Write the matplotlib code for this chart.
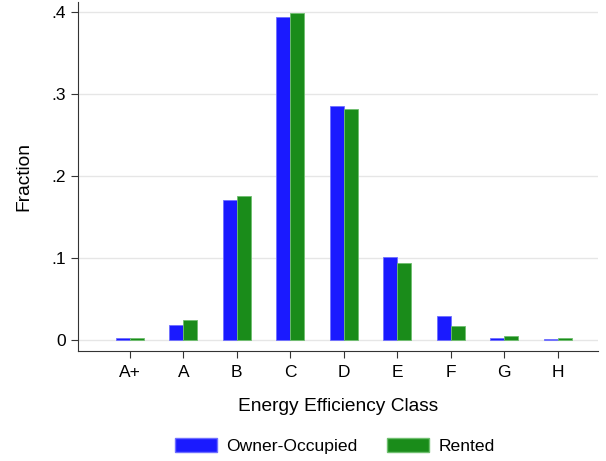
import numpy as np
import matplotlib.pyplot as plt
from matplotlib.patches import Patch

plt.rcParams['font.family'] = ['Liberation Sans', 'DejaVu Sans']

classes = ["A+", "A", "B", "C", "D", "E", "F", "G", "H"]
owner = [0.002, 0.018, 0.171, 0.394, 0.285, 0.101, 0.029, 0.002, 0.001]
rented = [0.003, 0.024, 0.176, 0.399, 0.282, 0.094, 0.017, 0.005, 0.003]

blue = "#1a1aff"
green = "#1a8c1a"

fig = plt.figure(figsize=(6.06, 4.61), dpi=100)
ax = fig.add_axes([0.1287, 0.2386, 0.858, 0.757])

x = np.arange(len(classes))
w = 0.26
ax.bar(x - w/2, owner, w, color=blue, edgecolor="#6f6fff", linewidth=0.6, zorder=3)
ax.bar(x + w/2, rented, w, color=green, edgecolor="#6fbf6f", linewidth=0.6, zorder=3)

ax.set_xlim(-0.97, 8.75)
ax.set_ylim(-0.0134, 0.412)
ax.set_yticks([0, 0.1, 0.2, 0.3, 0.4])
ax.set_yticklabels(["0", ".1", ".2", ".3", ".4"])
ax.set_xticks(x)
ax.set_xticklabels(classes)
ax.tick_params(labelsize=12.5, length=5, width=0.8, color="#333333")
ax.tick_params(axis="x", pad=5)
ax.grid(axis="y", color="#e6e6e6", linewidth=1, zorder=0)

for s in ["top", "right"]:
    ax.spines[s].set_visible(False)
for s in ["left", "bottom"]:
    ax.spines[s].set_color("#333333")
    ax.spines[s].set_linewidth(0.8)

ax.set_xlabel("Energy Efficiency Class", fontsize=13.8, labelpad=13)
ax.set_ylabel("Fraction", fontsize=13.8, labelpad=14)

handles = [Patch(facecolor=blue, edgecolor="#6f6fff", label="Owner-Occupied"),
           Patch(facecolor=green, edgecolor="#6fbf6f", label="Rented")]
fig.legend(handles=handles, loc="center", bbox_to_anchor=(0.553, 0.033), ncol=2,
           frameon=False, fontsize=12.6, handlelength=2.35, handleheight=0.9,
           columnspacing=1.7, handletextpad=0.57)

fig.savefig("out.png", dpi=100)
